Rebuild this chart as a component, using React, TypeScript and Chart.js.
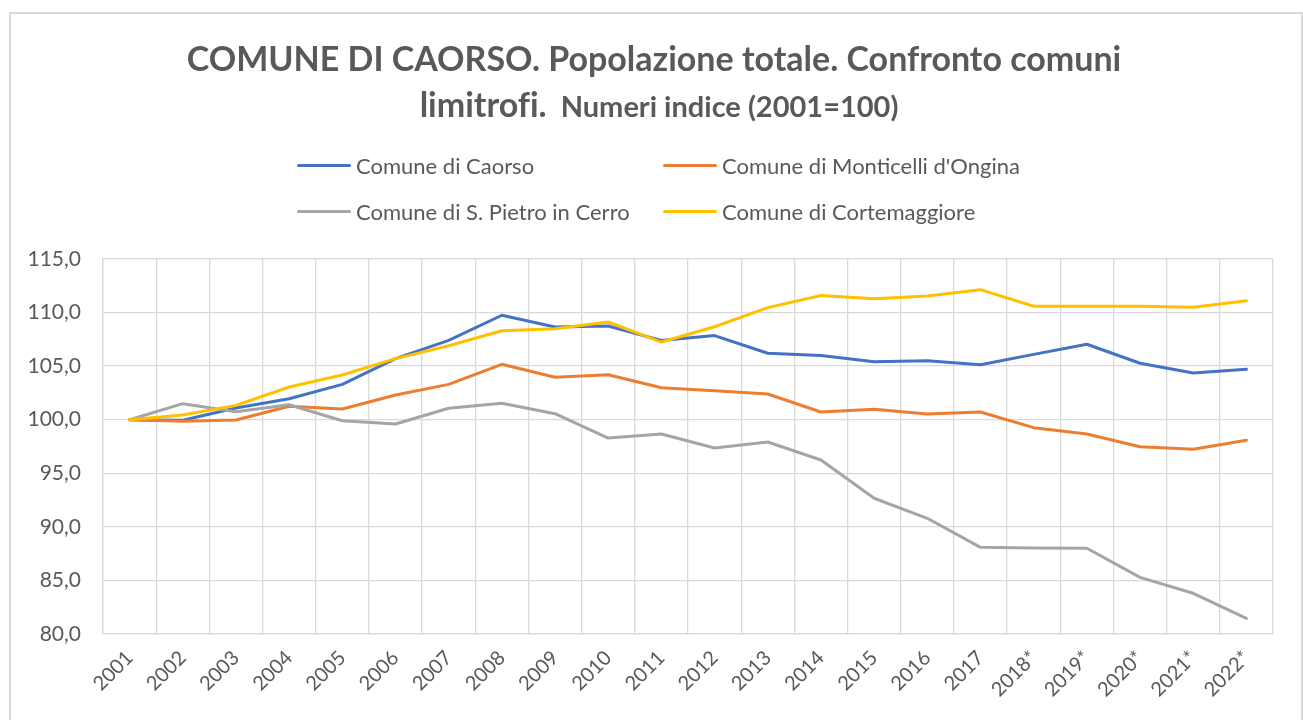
import React, { useEffect, useRef } from "react";
import { Chart, registerables } from "chart.js";

Chart.register(...registerables);

// ---- Data ----
const years = [
  "2001", "2002", "2003", "2004", "2005", "2006", "2007", "2008", "2009", "2010", "2011",
  "2012", "2013", "2014", "2015", "2016", "2017", "2018*", "2019*", "2020*", "2021*", "2022*",
];

const caorso = [
  100.0, 99.95, 101.1, 101.95, 103.3, 105.7, 107.4, 109.75, 108.65, 108.75, 107.4,
  107.85, 106.2, 106.0, 105.4, 105.5, 105.13, 106.1, 107.04, 105.27, 104.36, 104.7,
];

const monticelli = [
  100.0, 99.85, 99.97, 101.25, 101.0, 102.3, 103.3, 105.17, 103.96, 104.2, 102.99,
  102.7, 102.4, 100.72, 100.97, 100.53, 100.72, 99.26, 98.67, 97.48, 97.24, 98.08,
];

const sPietro = [
  100.0, 101.5, 100.75, 101.4, 99.9, 99.6, 101.07, 101.53, 100.56, 98.29, 98.67,
  97.36, 97.92, 96.24, 92.67, 90.8, 88.09, 88.03, 88.0, 85.29, 83.8, 81.46,
];

const cortemaggiore = [
  100.0, 100.44, 101.34, 103.05, 104.17, 105.7, 106.9, 108.3, 108.5, 109.12, 107.25,
  108.68, 110.46, 111.6, 111.3, 111.55, 112.14, 110.59, 110.59, 110.59, 110.5, 111.1,
];

const seriesNames = [
  "Comune di Caorso",
  "Comune di Monticelli d'Ongina",
  "Comune di S. Pietro in Cerro",
  "Comune di Cortemaggiore",
];
const seriesColors = ["#4472C4", "#ED7D31", "#A5A5A5", "#FFC000"];
const seriesValues = [caorso, monticelli, sPietro, cortemaggiore];

const yMin = 80;
const yMax = 115;
const yStep = 5;

const titleLine1 = "COMUNE DI CAORSO. Popolazione totale. Confronto comuni";
const titleLine2a = "limitrofi.";
const titleLine2b = "Numeri indice (2001=100)";

const FONT = "Lato, 'Noto Sans', sans-serif";
const TEXT = "#595959";
const GRID = "#d9d9d9";

export default function App() {
  const canvasRef = useRef<HTMLCanvasElement | null>(null);

  useEffect(() => {
    document.body.style.overflow = "hidden";
    const canvas = canvasRef.current;
    if (!canvas) return;
    const chart = new Chart(canvas, {
      type: "line",
      data: {
        labels: years,
        datasets: seriesValues.map((vals, i) => ({
          label: seriesNames[i],
          data: vals,
          borderColor: seriesColors[i],
          backgroundColor: seriesColors[i],
          borderWidth: 3,
          pointRadius: 0,
          pointHoverRadius: 0,
          tension: 0,
          fill: false,
          borderCapStyle: "round" as const,
          borderJoinStyle: "round" as const,
          order: seriesValues.length - 1 - i,
        })),
      },
      options: {
        responsive: false,
        animation: false,
        devicePixelRatio: 1,
        layout: { padding: { top: 259, right: 30, left: 0, bottom: 0 } },
        plugins: {
          legend: { display: false },
          title: { display: false },
          tooltip: { enabled: false },
        },
        scales: {
          x: {
            type: "category",
            offset: true,
            grid: { offset: true, color: GRID, lineWidth: 1.3, drawTicks: false },
            border: { color: GRID, width: 1.3 },
            ticks: {
              autoSkip: false,
              minRotation: 45,
              maxRotation: 45,
              color: TEXT,
              padding: 12,
              font: { family: FONT, size: 20 },
            },
            afterFit: (s: any) => {
              s.height = 86;
            },
          },
          y: {
            min: yMin,
            max: yMax,
            grid: { color: GRID, lineWidth: 1.3, drawTicks: false },
            border: { color: GRID, width: 1.3 },
            ticks: {
              stepSize: yStep,
              color: TEXT,
              padding: 22,
              font: { family: FONT, size: 21 },
              callback: (v: any) => Number(v).toFixed(1).replace(".", ","),
            },
            afterFit: (s: any) => {
              s.width = 103;
            },
          },
        },
      },
    });
    return () => chart.destroy();
  }, []);

  return (
    <div style={{ position: "absolute", left: 0, top: 0, width: 1303, height: 720, overflow: "hidden", background: "#fff" }}>
      <div
        style={{
          position: "absolute",
          left: 9,
          top: 12,
          width: 1294,
          height: 708,
          boxSizing: "border-box",
          borderTop: "2px solid #d9d9d9",
          borderLeft: "2px solid #d9d9d9",
          borderRight: "2px solid #d9d9d9",
        }}
      />
      <canvas ref={canvasRef} width={1303} height={720} style={{ position: "absolute", left: 0, top: 0, width: 1303, height: 720 }} />
      <div
        style={{
          position: "absolute",
          left: 0,
          width: 1318,
          top: 35,
          textAlign: "center",
          fontFamily: FONT,
          fontWeight: 700,
          color: TEXT,
          fontSize: 34,
          lineHeight: "45px",
          whiteSpace: "nowrap",
          fontVariantLigatures: "none",
        }}
      >
        <div style={{ marginLeft: -10 }}>{titleLine1}</div>
        <div style={{ marginTop: 1 }}>
          {titleLine2a}
          <span style={{ fontSize: 29, marginLeft: 14 }}>{titleLine2b}</span>
        </div>
      </div>
      <div
        style={{
          position: "absolute",
          left: 297,
          top: 142,
          display: "grid",
          gridTemplateColumns: "366px auto",
          gridAutoRows: "46px",
          fontFamily: FONT,
          fontSize: 22,
          color: TEXT,
        }}
      >
        {seriesNames.map((name, i) => (
          <div key={name} style={{ display: "flex", alignItems: "center", whiteSpace: "nowrap" }}>
            <span style={{ display: "inline-block", width: 54, height: 3, background: seriesColors[i], borderRadius: 2, marginRight: 5 }} />
            <span>{name}</span>
          </div>
        ))}
      </div>
    </div>
  );
}
